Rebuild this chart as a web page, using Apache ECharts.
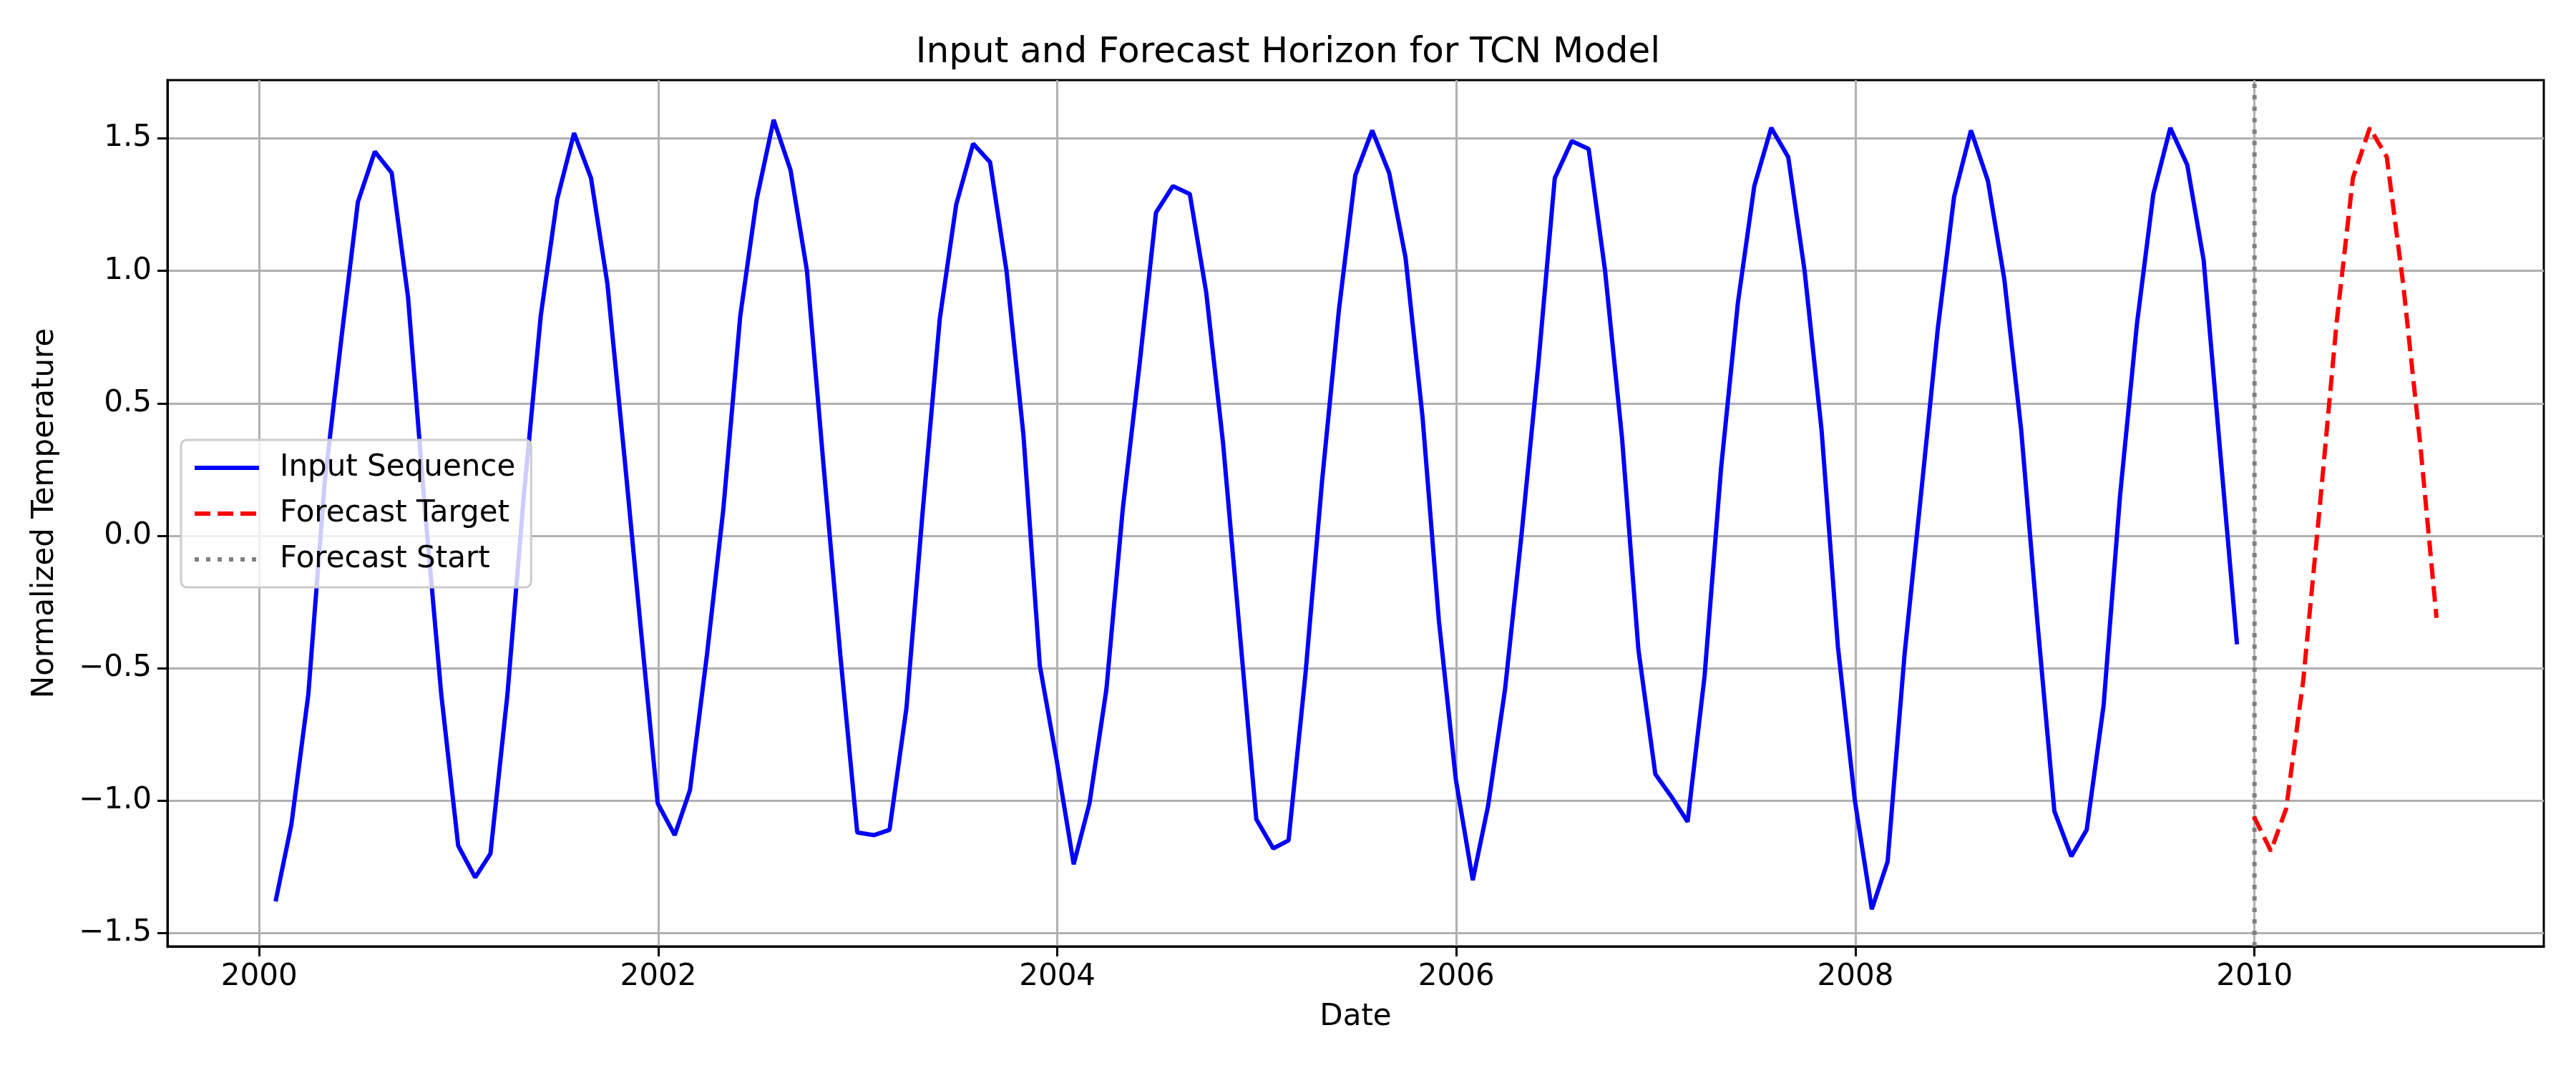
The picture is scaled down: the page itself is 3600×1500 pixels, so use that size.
<!DOCTYPE html>
<html>
<head>
<meta charset="utf-8">
<script src="https://cdn.jsdelivr.net/npm/echarts@6/dist/echarts.min.js"></script>
<style>html,body{margin:0;padding:0;background:#fff}#chart{width:3600px;height:1500px}</style>
</head>
<body>
<div id="chart"></div>
<script>
// monthly values, one array per year (Jan..Dec, month-end dates)
const inputStartYear = 2000
const input2000 = [-1.38, -1.09, -0.60, 0.20, 0.75, 1.26, 1.45, 1.37, 0.90, 0.10, -0.60, -1.17]
const input2001 = [-1.29, -1.20, -0.60, 0.15, 0.83, 1.27, 1.52, 1.35, 0.95, 0.30, -0.35, -1.01]
const input2002 = [-1.13, -0.96, -0.45, 0.10, 0.83, 1.27, 1.57, 1.38, 1.00, 0.25, -0.45, -1.12]
const input2003 = [-1.13, -1.11, -0.65, 0.10, 0.82, 1.25, 1.48, 1.41, 1.00, 0.38, -0.49, -0.85]
const input2004 = [-1.24, -1.01, -0.58, 0.10, 0.65, 1.22, 1.32, 1.29, 0.92, 0.35, -0.35, -1.07]
const input2005 = [-1.18, -1.15, -0.52, 0.20, 0.85, 1.36, 1.53, 1.37, 1.05, 0.45, -0.32, -0.92]
const input2006 = [-1.30, -1.02, -0.58, 0.00, 0.65, 1.35, 1.49, 1.46, 1.00, 0.37, -0.43, -0.90]
const input2007 = [-0.99, -1.08, -0.53, 0.25, 0.88, 1.32, 1.54, 1.43, 1.00, 0.40, -0.42, -1.00]
const input2008 = [-1.41, -1.23, -0.45, 0.15, 0.78, 1.28, 1.53, 1.34, 0.97, 0.40, -0.33, -1.04]
const input2009 = [-1.21, -1.11, -0.64, 0.15, 0.80, 1.29, 1.54, 1.40, 1.04, 0.30, -0.41]
// forecast from 2009-12 to 2010-11
const forecastStartMonth = [2009, 12]
const forecastValues = [-1.06, -1.19, -1.03, -0.55, 0.10, 0.80, 1.35, 1.54, 1.43, 0.95, 0.35, -0.31]
const forecastStart = 2010
const yTicks = [-1.5, -1.0, -0.5, 0.0, 0.5, 1.0, 1.5]
const xTicks = [2000, 2002, 2004, 2006, 2008, 2010]

function monthEnd(y, m) { // m: 1..12 -> fractional year of last day of month
  const d = Date.UTC(y, m, 0)
  const s = Date.UTC(y, 0, 1), e = Date.UTC(y + 1, 0, 1)
  return y + (d - s) / (e - s)
}

const inputYears = [input2000, input2001, input2002, input2003, input2004, input2005, input2006, input2007, input2008, input2009]
const inputData = []
inputYears.forEach((arr, i) => arr.forEach((v, m) => inputData.push([monthEnd(inputStartYear + i, m + 1), v])))
const forecastData = forecastValues.map((v, i) => {
  let y = forecastStartMonth[0], m = forecastStartMonth[1] + i
  while (m > 12) { m -= 12; y++ }
  return [monthEnd(y, m), v]
})

const yMin = -1.55, yMax = 1.72
const font = 'DejaVu Sans'
let myChart = echarts.init(document.getElementById('chart'))
let option = {
  animation: false,
  backgroundColor: '#fff',
  textStyle: { fontFamily: font },
  title: {
    text: 'Input and Forecast Horizon for TCN Model',
    left: 'center', top: 44,
    textStyle: { fontFamily: font, fontSize: 50, fontWeight: 'normal', color: '#000' }
  },
  legend: {
    orient: 'vertical', left: 253, top: 615,
    padding: [18, 22, 18, 16],
    itemWidth: 90, itemHeight: 20, itemGap: 22,
    backgroundColor: 'rgba(255,255,255,0.8)',
    borderColor: '#cccccc', borderWidth: 3, borderRadius: 8,
    itemStyle: { color: 'rgba(0,0,0,0)', borderWidth: 0 },
    lineStyle: { width: 6 },
    textStyle: { fontFamily: font, fontSize: 42, color: '#000', padding: [0, 0, 0, 24] },
    data: ['Input Sequence', 'Forecast Target', 'Forecast Start']
  },
  grid: { left: 234, right: 45, top: 112, bottom: 177, containLabel: false, show: true, borderColor: '#000', borderWidth: 3 },
  xAxis: {
    type: 'value', min: 1999.54, max: 2011.45,
    name: 'Date', nameLocation: 'middle', nameGap: 78,
    nameTextStyle: { fontFamily: font, fontSize: 42, color: '#000' },
    axisLine: { show: true, onZero: false, lineStyle: { color: '#000', width: 3 } },
    axisTick: { show: true, length: 14, customValues: xTicks, lineStyle: { color: '#000', width: 3 } },
    axisLabel: { customValues: xTicks, fontSize: 42, color: '#000', margin: 22, formatter: v => String(v) },
    splitLine: { show: true, lineStyle: { color: '#b0b0b0', width: 3 } }
  },
  yAxis: {
    type: 'value', min: yMin, max: yMax,
    name: 'Normalized Temperature', nameLocation: 'middle', nameGap: 150,
    nameTextStyle: { fontFamily: font, fontSize: 42, color: '#000' },
    axisLine: { show: true, onZero: false, lineStyle: { color: '#000', width: 3 } },
    axisTick: { show: true, length: 14, customValues: yTicks, lineStyle: { color: '#000', width: 3 } },
    axisLabel: { customValues: yTicks, fontSize: 42, color: '#000', margin: 22, formatter: v => v.toFixed(1).replace('-', '\u2212') },
    splitLine: { show: true, lineStyle: { color: '#b0b0b0', width: 3 } }
  },
  series: [
    {
      name: 'Input Sequence', type: 'line', data: inputData, showSymbol: false, symbol: 'none',
      lineStyle: { color: '#0000ff', width: 6 }, itemStyle: { color: '#0000ff' }, z: 3
    },
    {
      name: 'Forecast Target', type: 'line', data: forecastData, showSymbol: false, symbol: 'none',
      lineStyle: { color: '#ff0000', width: 6, type: [22, 10] }, itemStyle: { color: '#ff0000' }, z: 3
    },
    {
      name: 'Forecast Start', type: 'line', data: [[forecastStart, yMin], [forecastStart, yMax]], showSymbol: false, symbol: 'none',
      lineStyle: { color: '#808080', width: 6, type: [6, 10] }, itemStyle: { color: '#808080' }, z: 2
    }
  ]
}
myChart.setOption(option)
</script>
</body>
</html>
